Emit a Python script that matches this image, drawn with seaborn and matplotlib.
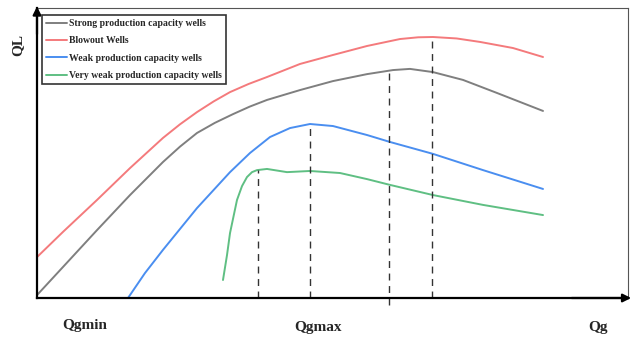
import pandas as pd
import matplotlib
matplotlib.use('Agg')
import matplotlib.pyplot as plt
import seaborn as sns

# Valores (Qg e QL em unidades relativas 0-100)
red_x = [0, 4.40, 10.15, 15.74, 21.32, 24.2, 27.07, 29.9, 32.66, 35.8, 38.92, 44.50, 50.08, 55.84, 61.42, 64.5, 67.0, 71.0, 74.96, 80.54, 85.62]
red_y = [14.1, 22.8, 33.8, 44.8, 55.2, 59.9, 64.1, 67.8, 71.0, 73.8, 76.2, 80.7, 83.8, 86.9, 89.3, 89.9, 90.0, 89.5, 88.3, 86.2, 83.1]

gray_x = [0, 4.40, 10.15, 15.74, 21.32, 24.2, 27.07, 30.1, 33.16, 36.0, 38.92, 44.50, 50.08, 55.84, 60.24, 63.11, 67.0, 72.08, 77.83, 85.62]
gray_y = [1.0, 10.7, 23.4, 35.5, 46.9, 52.2, 56.9, 60.4, 63.4, 66.0, 68.3, 71.7, 74.8, 77.2, 78.6, 79.0, 77.9, 75.2, 70.7, 64.5]

blue_x = [15.4, 18.27, 21.32, 27.07, 32.66, 36.04, 39.42, 42.81, 46.19, 50.08, 55.84, 59.73, 67.0, 75.47, 85.62]
blue_y = [0, 8.6, 16.6, 31.0, 43.4, 50.0, 55.5, 58.6, 60.0, 59.3, 56.2, 53.8, 49.7, 44.1, 37.6]

green_x = [31.47, 32.15, 32.66, 33.84, 34.69, 35.53, 36.38, 37.23, 38.92, 42.3, 46.19, 51.27, 55.84, 59.73, 67.0, 75.47, 85.62]
green_y = [6.2, 14.8, 22.4, 33.8, 38.6, 41.7, 43.4, 44.1, 44.5, 43.4, 43.8, 43.1, 41.0, 39.0, 35.5, 32.1, 28.6]

# Linhas tracejadas verticais (posição em Qg, topo em QL)
dash_x = [37.4, 46.2, 59.6, 66.8]
dash_top = [44.1, 60.0, 78.6, 90.0]
dash_bottom = [0, 0, -2.4, 0]

series = [
    ('Strong production capacity wells', gray_x, gray_y, '#7f7f7f'),
    ('Blowout Wells', red_x, red_y, '#f47a7c'),
    ('Weak production capacity wells', blue_x, blue_y, '#4a8ef0'),
    ('Very weak production capacity wells', green_x, green_y, '#5fbf83'),
]

sns.set_style('white')
plt.rcParams['font.family'] = ['Liberation Serif', 'DejaVu Serif']

fig = plt.figure(figsize=(6.33, 3.40), dpi=100)
ax = fig.add_axes([37 / 633, 42 / 340, 591 / 633, 290 / 340])

for nome, xs, ys, cor in series:
    df = pd.DataFrame({'Qg': xs, 'QL': ys})
    sns.lineplot(data=df, x='Qg', y='QL', ax=ax, color=cor, lw=1.4, label=nome,
                 sort=False, estimator=None, solid_joinstyle='round')

ax.vlines(dash_x, dash_bottom, dash_top, colors='#333333', linestyles=(0, (5, 4)), lw=1.0,
          clip_on=False)

ax.set_xlim(0, 100)
ax.set_ylim(0, 100)
ax.set_xticks([])
ax.set_yticks([])
ax.set_xlabel('')
ax.set_ylabel('')

for s in ['top', 'right']:
    ax.spines[s].set_color('#555555')
    ax.spines[s].set_linewidth(0.8)
for s in ['left', 'bottom']:
    ax.spines[s].set_color('black')
    ax.spines[s].set_linewidth(1.6)

# setas dos eixos
ax.annotate('', xy=(0, 1.015), xytext=(0, 0.9), xycoords='axes fraction',
            arrowprops=dict(arrowstyle='-|>', color='black', lw=1.6, mutation_scale=12))
ax.annotate('', xy=(1.01, 0), xytext=(0.9, 0), xycoords='axes fraction',
            arrowprops=dict(arrowstyle='-|>', color='black', lw=1.6, mutation_scale=12))

leg = ax.legend(loc='upper left', bbox_to_anchor=(0.008, 0.975), fancybox=False, framealpha=1,
                edgecolor='#333333', prop={'weight': 'bold', 'size': 7.0},
                handlelength=2.2, handletextpad=0.25, labelspacing=0.85, borderpad=0.4,
                borderaxespad=0)
leg.get_frame().set_linewidth(1.2)

fig.text(18 / 633, 1 - 45 / 340, 'QL', rotation=90, ha='center', va='center',
         fontsize=11, fontweight='bold')
fig.text(85 / 633, 1 - 325 / 340, 'Qgmin', ha='center', va='center', fontsize=11, fontweight='bold')
fig.text(318 / 633, 1 - 327 / 340, 'Qgmax', ha='center', va='center', fontsize=11, fontweight='bold')
fig.text(598 / 633, 1 - 328 / 340, 'Qg', ha='center', va='center', fontsize=11, fontweight='bold')

fig.savefig('out.png', dpi=100)
